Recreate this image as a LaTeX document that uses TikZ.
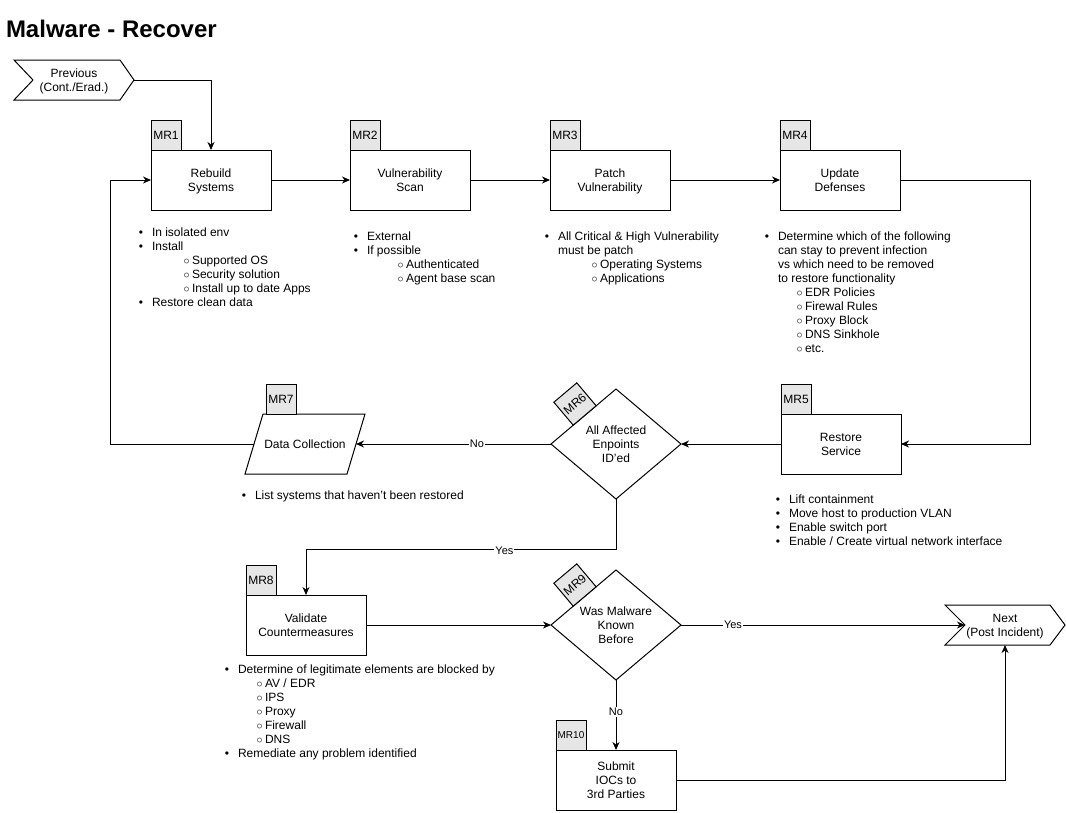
\documentclass[tikz,border=0pt]{standalone}
\usepackage{fontspec}
\setmainfont{Liberation Sans}
\usetikzlibrary{arrows.meta,shapes.geometric}
\definecolor{tabgray}{HTML}{E6E6E6}
\newcommand\bi[1]{\strut\makebox[0pt][r]{\textbullet\hspace{9pt}}#1}
\newcommand\si[2]{\strut\hspace*{#1}\makebox[0pt][r]{$\circ$\hspace{2.5pt}}#2}
\newcommand\tstrut{\rule{0pt}{10.9pt}}
\newcommand\lastl[1]{\smash{#1}\rule[-1.5pt]{0pt}{1.5pt}}
\begin{document}
\begin{tikzpicture}[x=1pt,y=-1pt,
  line width=1pt,
  every node/.style={outer sep=0pt},
  arr/.style={-{Stealth[length=8pt,width=7pt,inset=2.5pt]}},
  box/.style={draw,fill=white,minimum width=120pt,minimum height=60pt,inner sep=0pt,align=center,font=\fontsize{12}{14}\selectfont},
  dia/.style={draw,fill=white,diamond,aspect=1.18,minimum width=130pt,minimum height=110pt,inner sep=0pt,align=center,font=\fontsize{12}{14}\selectfont},
  plain/.style={minimum width=120pt,inner sep=0pt,align=center,font=\fontsize{12}{14}\selectfont},
  tab/.style={draw,fill=tabgray,minimum width=30pt,minimum height=30pt,inner sep=0pt,font=\fontsize{12}{14}\selectfont},
  blk/.style={anchor=north west,align=left,inner sep=0pt,font=\fontsize{12}{14}\selectfont},
  lbl/.style={fill=white,inner sep=1pt,font=\fontsize{11}{13}\selectfont}]
\useasboundingbox (0,0) rectangle (1066,812);

% title
\node[anchor=base west,inner sep=0pt,font=\bfseries\fontsize{24}{28}\selectfont] (title) at (6,37) {Malware - Recover};

% previous step shape
\node[plain,minimum height=40pt] (prev) at (74,80) {\tstrut Previous\\\lastl{(Cont./Erad.)}};
\draw (prev.north west) -- ([xshift=-14pt]prev.north east) -- (prev.east) -- ([xshift=-14pt]prev.south east) -- (prev.south west) -- ([xshift=19pt]prev.west) -- cycle;

% next step shape
\node[plain,minimum height=40pt] (next) at (1005,625) {\tstrut Next\\\lastl{(Post Incident)}};
\draw (next.north west) -- ([xshift=-15pt]next.north east) -- (next.east) -- ([xshift=-15pt]next.south east) -- (next.south west) -- ([xshift=20pt]next.west) -- cycle;
\coordinate (nextin) at ([xshift=20pt]next.west);

% boxes
\node[box] (mr1) at (211,180) {\tstrut Rebuild\\\lastl{Systems}};
\node[box] (mr2) at (410,180) {\tstrut Vulnerability\\\lastl{Scan}};
\node[box] (mr3) at (610,180) {\tstrut Patch\\\lastl{Vulnerability}};
\node[box] (mr4) at (840,180) {\tstrut Update\\\lastl{Defenses}};
\node[box] (mr5) at (841,444) {\tstrut Restore\\\lastl{Service}};
\node[dia] (mr6) at (616,444) {All Affected\\Enpoints\\ID'ed};
\node[plain,minimum height=60pt] (mr7) at (305,444) {Data Collection};
\draw ([xshift=18pt]mr7.north west) -- (mr7.north east) -- ([xshift=-18pt]mr7.south east) -- (mr7.south west) -- cycle;
\coordinate (mr7r) at ([xshift=-9pt]mr7.east);
\coordinate (mr7l) at ([xshift=9pt]mr7.west);
\node[box] (mr8) at (306,625) {\tstrut Validate\\\lastl{Countermeasures}};
\node[dia] (mr9) at (616,625) {Was Malware\\Known\\Before};
\node[box] (mr10) at (616,780) {\tstrut Submit\\IOCs to\\\lastl{3rd Parties}};

% tabs
\node[tab,anchor=south west] (t1) at (mr1.north west) {MR1};
\node[tab,anchor=south west] (t2) at (mr2.north west) {MR2};
\node[tab,anchor=south west] (t3) at (mr3.north west) {MR3};
\node[tab,anchor=south west] (t4) at (mr4.north west) {MR4};
\node[tab,anchor=south west] (t5) at (mr5.north west) {MR5};
\node[tab,rotate=40.2] (t6) at (575,404) {MR6};
\node[tab,anchor=south west] (t7) at ([xshift=21pt]mr7.north west) {MR7};
\node[tab,anchor=south west] (t8) at (mr8.north west) {MR8};
\node[tab,rotate=40.2] (t9) at (575,585) {MR9};
\node[tab,anchor=south west,font=\fontsize{10}{12}\selectfont] (t10) at (mr10.north west) {MR10};

% connectors
\draw[arr] (prev.east) -| (mr1.north);
\draw[arr] (mr1.east) -- (mr2.west);
\draw[arr] (mr2.east) -- (mr3.west);
\draw[arr] (mr3.east) -- (mr4.west);
\draw[arr] (mr4.east) -- ++(130,0) |- (mr5.east);
\draw[arr] (mr5.west) -- (mr6.east);
\draw[arr] (mr6.west) -- node[lbl,pos=0.38] (l1) {No} (mr7r);
\draw[arr] (mr7l) -- ++(-144,0) |- (mr1.west);
\draw[arr] (mr6.south) -- ++(0,50) -| node[lbl,pos=0.18,yshift=-1.5pt] (l2) {Yes} (mr8.north);
\draw[arr] (mr8.east) -- (mr9.west);
\draw[arr] (mr9.east) -- node[lbl,pos=0.183] (l3) {Yes} (nextin);
\draw[arr] (mr9.south) -- node[lbl,pos=0.46] (l4) {No} (mr10.north);
\draw[arr] (mr10.east) -| (next.south);

% notes
\node[blk] (n1) at (152,227) {\bi{In isolated env}\\\bi{Install}\\\si{40pt}{Supported OS}\\\si{40pt}{Security solution}\\\si{40pt}{Install up to date Apps}\\\bi{Restore clean data}};
\node[blk] (n2) at (367,231) {\bi{External}\\\bi{If possible}\\\si{39pt}{Authenticated}\\\si{39pt}{Agent base scan}};
\node[blk] (n3) at (558,231) {\bi{All Critical \& High Vulnerability}\\\strut must be patch\\\si{42pt}{Operating Systems}\\\si{42pt}{Applications}};
\node[blk] (n4) at (778,231) {\bi{Determine which of the following}\\\strut can stay to prevent infection\\\strut vs which need to be removed\\\strut to restore functionality\\\si{27pt}{EDR Policies}\\\si{27pt}{Firewal Rules}\\\si{27pt}{Proxy Block}\\\si{27pt}{DNS Sinkhole}\\\si{27pt}{etc.}};
\node[blk] (n5) at (789,494) {\bi{Lift containment}\\\bi{Move host to production VLAN}\\\bi{Enable switch port}\\\bi{Enable / Create virtual network interface}};
\node[blk] (n7) at (255,490) {\bi{List systems that haven't been restored}};
\node[blk] (n8) at (238,664) {\bi{Determine of legitimate elements are blocked by}\\\si{27pt}{AV / EDR}\\\si{27pt}{IPS}\\\si{27pt}{Proxy}\\\si{27pt}{Firewall}\\\si{27pt}{DNS}\\\bi{Remediate any problem identified}};
\end{tikzpicture}
\end{document}
